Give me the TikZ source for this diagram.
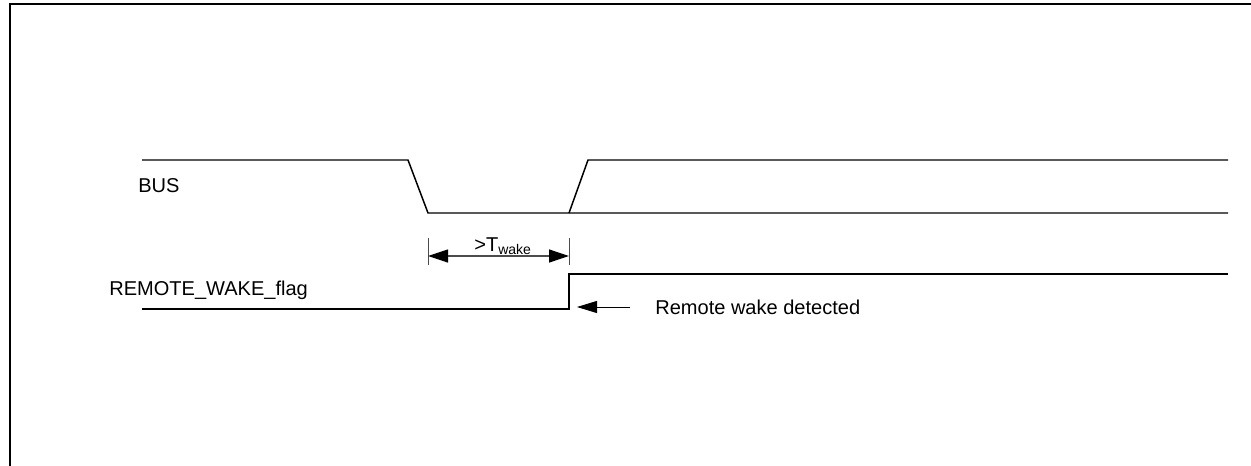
\documentclass[tikz,border=0pt]{standalone}
\usepackage{fontspec}
\setmainfont{Liberation Sans}
\usetikzlibrary{arrows.meta}

\begin{document}
\begin{tikzpicture}[x=0.02cm,y=-0.02cm,
        signal/.style={black, line width=0.85pt},
        dimarrow/.style={black!70, line width=0.7pt, {Triangle[length=0.4cm,width=0.26cm,black]}-{Triangle[length=0.4cm,width=0.26cm,black]}},
        label/.style={inner sep=0pt, anchor=west, font=\fontsize{11.4}{13}\selectfont}]
                \useasboundingbox (0,0) rectangle (1251,466);
                % frame
                \draw[black, line width=1.4pt](10,466) -- (10,4) -- (1251,4);
                % BUS
                \draw[signal](142,160) -- (408,160) -- (428,213) -- (1228,213);
                \draw[signal](569,213) -- (588,160) -- (1228,160);
                \node[label] (bus) at (138,186) {BUS};
                % wake time
                \draw[black!70, line width=0.5pt](428,238) -- (428,265);
                \draw[black!70, line width=0.5pt](569,238) -- (569,265);
                \coordinate (twakeL) at (428,256);
                \coordinate (twakeR) at (569,256);
                \draw[dimarrow](twakeL) -- (twakeR);
                \node[label] (twake) at (474,246) {>T\textsubscript{wake}};
                % REMOTE_WAKE_flag
                \draw[signal](142,309) -- (569,309) -- (569,274) -- (1228,274);
                \node[label] (flag) at (109,290) {REMOTE\_WAKE\_flag};
                \node[label] (detected) at (655,307) {Remote wake detected};
                \coordinate (tail) at (630,307);
                \coordinate (edge) at (577,307);
                \draw[black, line width=0.5pt, -{Triangle[length=0.4cm,width=0.24cm]}](tail) -- (edge);
            \end{tikzpicture}
\end{document}
